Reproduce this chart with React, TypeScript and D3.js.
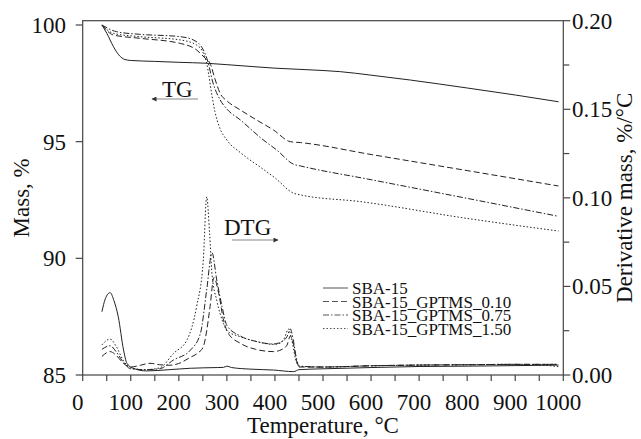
import React from "react";
import * as d3 from "d3";

// ---- data ----
const xTicks = [0, 100, 200, 300, 400, 500, 600, 700, 800, 900, 1000];
const leftTicks = [85, 90, 95, 100];
const rightTicks = [0.0, 0.05, 0.1, 0.15, 0.2];
const seriesNames = ["SBA-15", "SBA-15_GPTMS_0.10", "SBA-15_GPTMS_0.75", "SBA-15_GPTMS_1.50"];

// TG curves: [temperature, mass %]
const tgSBA: [number, number][] = [
  [40, 100], [50, 99.65], [64, 99.07], [75, 98.72], [88, 98.52], [100, 98.48], [150, 98.44],
  [200, 98.4], [258, 98.36], [300, 98.3], [400, 98.15], [500, 98.05], [536, 98.0], [600, 97.85],
  [682, 97.64], [800, 97.3], [900, 97.0], [990, 96.71],
];
const tg010: [number, number][] = [
  [40, 100], [64, 99.57], [119, 99.43], [203, 99.21], [237, 98.93], [255, 98.57], [265, 98.36],
  [275, 97.7], [286, 97.07], [300, 96.75], [328, 96.36], [360, 95.95], [397, 95.5], [432, 95.0],
  [453, 94.96], [600, 94.45], [800, 93.76], [990, 93.1],
];
const tg075: [number, number][] = [
  [40, 100], [71, 99.71], [119, 99.6], [203, 99.5], [230, 99.36], [251, 98.93], [261, 98.39],
  [270, 97.6], [286, 96.79], [300, 96.4], [328, 95.93], [373, 95.12], [405, 94.62], [439, 94.03],
  [453, 93.96], [600, 93.37], [800, 92.57], [990, 91.8],
];
const tg150: [number, number][] = [
  [40, 100], [64, 99.64], [119, 99.5], [203, 99.36], [237, 99.14], [251, 98.79], [258, 98.36],
  [262, 97.9], [268, 97.1], [275, 96.3], [285, 95.6], [300, 95.07], [330, 94.5], [370, 93.9],
  [400, 93.45], [439, 92.79], [453, 92.72], [578, 92.43], [800, 91.71], [990, 91.17],
];

// DTG curves: [temperature, derivative %/°C]
const dtgSBA: [number, number][] = [
  [40, 0.0357], [47, 0.043], [57, 0.0465], [65, 0.042], [74, 0.0329], [85, 0.0141], [92, 0.0066],
  [105, 0.0038], [133, 0.0023], [180, 0.003], [224, 0.0038], [280, 0.0042], [293, 0.0043],
  [300, 0.005], [310, 0.0042], [350, 0.0033], [397, 0.0028], [439, 0.0019], [450, 0.003],
  [500, 0.0035], [600, 0.0042], [700, 0.0048], [800, 0.005], [900, 0.0053], [990, 0.0056],
];
const dtg010: [number, number][] = [
  [40, 0.0105], [57, 0.0132], [70, 0.011], [85, 0.0065], [100, 0.0045], [120, 0.0055],
  [140, 0.0066], [160, 0.0058], [180, 0.0055], [200, 0.0065], [224, 0.01], [240, 0.0125],
  [251, 0.016], [258, 0.025], [265, 0.0386], [273, 0.055], [283, 0.046], [293, 0.031],
  [303, 0.0235], [328, 0.0179], [360, 0.0145], [397, 0.0132], [415, 0.0145], [425, 0.0168],
  [432, 0.022], [438, 0.018], [445, 0.008], [450, 0.0045], [500, 0.0045], [600, 0.0052],
  [700, 0.0056], [800, 0.0058], [900, 0.006], [990, 0.006],
];
const dtg075: [number, number][] = [
  [40, 0.0145], [57, 0.0165], [70, 0.013], [85, 0.007], [100, 0.0035], [130, 0.003],
  [160, 0.0035], [189, 0.0085], [224, 0.014], [245, 0.0235], [258, 0.048], [269, 0.069],
  [279, 0.0536], [290, 0.0386], [300, 0.028], [328, 0.022], [360, 0.019], [397, 0.0175],
  [415, 0.019], [425, 0.0216], [432, 0.026], [438, 0.02], [445, 0.009], [450, 0.005],
  [500, 0.0045], [600, 0.0052], [700, 0.0056], [800, 0.0058], [900, 0.006], [990, 0.006],
];
const dtg150: [number, number][] = [
  [40, 0.017], [57, 0.0203], [70, 0.016], [85, 0.008], [100, 0.004], [130, 0.003],
  [160, 0.004], [189, 0.0122], [217, 0.0198], [237, 0.0386], [251, 0.065], [258, 0.1006],
  [264, 0.08], [269, 0.057], [279, 0.042], [293, 0.029], [300, 0.025], [328, 0.0216],
  [360, 0.019], [397, 0.0173], [411, 0.018], [420, 0.021], [428, 0.026], [435, 0.0198],
  [443, 0.009], [450, 0.005], [500, 0.0045], [600, 0.0052], [700, 0.0056], [800, 0.0058],
  [900, 0.006], [960, 0.0055], [990, 0.0047],
];

const styles = ["none", "6,3", "6,2,1.5,2", "1.5,2"];

export default function App() {
  const W = 641, H = 439;
  const left = 82.7, right = 563.3, top = 20.7, bottom = 375;
  const x = d3.scaleLinear().domain([0, 1000]).range([left, right]);
  const yL = d3.scaleLinear().domain([85, 85 + (bottom - top) / (116.67 / 5)]).range([bottom, top]);
  const yR = d3.scaleLinear().domain([0, 0.2]).range([bottom, top]);

  const lineL = d3.line<[number, number]>().x((d) => x(d[0])).y((d) => yL(d[1])).curve(d3.curveMonotoneX);
  const lineR = d3.line<[number, number]>().x((d) => x(d[0])).y((d) => yR(d[1])).curve(d3.curveMonotoneX);

  const tg = [tgSBA, tg010, tg075, tg150];
  const dtg = [dtgSBA, dtg010, dtg075, dtg150];
  const fs = 23;
  const minorX = d3.range(50, 1000, 100);
  const minorR = [0.025, 0.075, 0.125, 0.175];
  const col = "#222";
  const ts = { fontFamily: '"Liberation Serif"' };

  return (
    <svg width={W} height={H} style={{ position: "absolute", left: 0, top: 0, background: "#fff" }}>
      <defs>
        <marker id="ah" viewBox="0 0 10 10" refX="9" refY="5" markerWidth="7" markerHeight="5" orient="auto-start-reverse" markerUnits="userSpaceOnUse">
          <path d="M0,0 L10,5 L0,10 z" fill="#333" />
        </marker>
      </defs>
      {/* frame */}
      <rect x={left} y={top} width={right - left} height={bottom - top} fill="none" stroke="#444" strokeWidth={1.2} />
      {/* x ticks */}
      {xTicks.map((t) => (
        <g key={"x" + t}>
          <line x1={x(t)} x2={x(t)} y1={bottom} y2={bottom + 6} stroke="#444" strokeWidth={1.2} />
          <text style={ts} x={x(t) - 5} y={410} fontSize={fs} textAnchor="middle" fill="#111">{t}</text>
        </g>
      ))}
      {minorX.map((t) => (
        <line key={"mx" + t} x1={x(t)} x2={x(t)} y1={bottom} y2={bottom + 6} stroke="#444" strokeWidth={1.2} />
      ))}
      {/* left ticks */}
      {leftTicks.map((t) => (
        <g key={"l" + t}>
          <line x1={left - 7} x2={left} y1={yL(t)} y2={yL(t)} stroke="#444" strokeWidth={1.2} />
          <text style={ts} x={66} y={yL(t) + 8} fontSize={fs} textAnchor="end" fill="#111">{t}</text>
        </g>
      ))}
      {/* right ticks */}
      {rightTicks.map((t) => (
        <g key={"r" + t}>
          <line x1={right} x2={right + 7} y1={yR(t)} y2={yR(t)} stroke="#444" strokeWidth={1.2} />
          <text style={ts} x={572} y={yR(t) + 8} fontSize={fs} textAnchor="start" fill="#111">{t.toFixed(2)}</text>
        </g>
      ))}
      {minorR.map((t) => (
        <line key={"mr" + t} x1={right} x2={right + 6} y1={yR(t)} y2={yR(t)} stroke="#444" strokeWidth={1.2} />
      ))}
      {/* axis titles */}
      <text style={ts} x={(left + right) / 2} y={433} fontSize={fs} textAnchor="middle" fill="#111">Temperature, °C</text>
      <text style={ts} transform={`translate(29,${(top + bottom) / 2}) rotate(-90)`} fontSize={fs} textAnchor="middle" fill="#111">Mass, %</text>
      <text style={ts} transform={`translate(632,${(top + bottom) / 2}) rotate(-90)`} fontSize={fs} textAnchor="middle" fill="#111">Derivative mass, %/°C</text>
      {/* curves */}
      {tg.map((s, i) => (
        <path key={"tg" + i} d={lineL(s) || ""} fill="none" stroke={col} strokeWidth={1} strokeDasharray={styles[i]} />
      ))}
      {dtg.map((s, i) => (
        <path key={"dtg" + i} d={lineR(s) || ""} fill="none" stroke={col} strokeWidth={1} strokeDasharray={styles[i]} />
      ))}
      {/* TG / DTG annotations */}
      <text style={ts} x={162} y={97} fontSize={fs} fill="#111">TG</text>
      <line x1={198} x2={152} y1={99} y2={99} stroke="#888" strokeWidth={1.2} markerEnd="url(#ah)" />
      <text style={ts} x={224} y={235} fontSize={fs} fill="#111">DTG</text>
      <line x1={232} x2={278} y1={240} y2={240} stroke="#888" strokeWidth={1.2} markerEnd="url(#ah)" />
      {/* legend */}
      {seriesNames.map((n, i) => {
        const ly = 288 + i * 13.5;
        return (
          <g key={"lg" + i}>
            <line x1={323} x2={348} y1={ly} y2={ly} stroke="#555" strokeWidth={1} strokeDasharray={styles[i]} />
            <text style={ts} x={352} y={ly + 6} fontSize={17} fill="#111">{n}</text>
          </g>
        );
      })}
    </svg>
  );
}
